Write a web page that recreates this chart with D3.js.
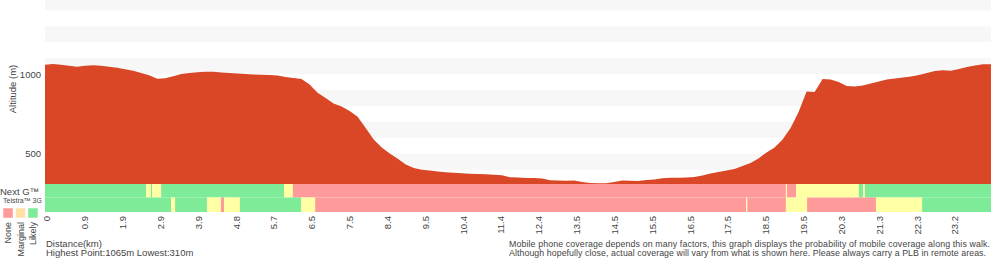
<!DOCTYPE html>
<html>
<head>
<meta charset="utf-8">
<script src="https://cdn.jsdelivr.net/npm/d3@7"></script>
<style>
    body { margin: 0; background: #fff; }
    text { font-family: "Liberation Sans", Arial, sans-serif; fill: #444; }
</style>
</head>
<body>
<div id="profile"></div>
<script>
// walk elevation profile with phone coverage strips underneath

// distance labels, one for every marker along the walk (km)
const tickLabels = ["0", "0.9", "1.9", "2.9", "3.9", "4.8", "5.7", "6.5", "7.5", "8.4",
    "9.5", "10.4", "11.4", "12.4", "13.5", "14.5", "15.5", "16.5", "17.5", "18.5",
    "19.5", "20.3", "21.3", "22.3", "23.2"];

// elevation samples (m), evenly spaced along the walk
const elevation = [1058, 1063, 1059, 1052, 1046, 1052, 1055, 1052, 1046, 1039,
    1031, 1021, 1007, 993, 970, 974, 987, 1000, 1007, 1011,
    1014, 1015, 1010, 1006, 1003, 1000, 998, 996, 994, 991,
    982, 975, 969, 935, 883, 850, 815, 796, 768, 732,
    661, 589, 539, 501, 468, 433, 410, 400, 395, 388,
    383, 380, 377, 375, 373, 371, 368, 365, 353, 351,
    348, 347, 345, 334, 332, 331, 332, 323, 316, 314,
    314, 323, 332, 330, 329, 335, 338, 346, 349, 350,
    351, 354, 363, 376, 385, 395, 404, 423, 442, 470,
    508, 539, 589, 661, 762, 891, 887, 969, 966, 950,
    925, 922, 928, 941, 953, 966, 972, 978, 985, 994,
    1007, 1019, 1024, 1021, 1032, 1044, 1054, 1062, 1062];

const lowest = 310;
const highest = 1065;

// coverage segments [from marker, to marker, level]
const nextG = [
    [0, 2.67, "likely"], [2.67, 2.80, "marginal"], [2.80, 2.83, "likely"],
    [2.83, 3.07, "marginal"], [3.07, 6.32, "likely"], [6.32, 6.55, "marginal"],
    [6.55, 19.58, "none"], [19.58, 19.61, "marginal"], [19.61, 19.85, "none"],
    [19.85, 21.51, "marginal"], [21.51, 21.62, "likely"], [21.62, 21.67, "marginal"],
    [21.67, 25, "likely"]
];

const telstra3G = [
    [0, 3.33, "likely"], [3.33, 3.44, "marginal"], [3.44, 4.28, "likely"],
    [4.28, 4.65, "marginal"], [4.65, 4.73, "none"], [4.73, 5.15, "marginal"],
    [5.15, 6.77, "likely"], [6.77, 7.14, "marginal"], [7.14, 18.53, "none"],
    [18.53, 18.56, "marginal"], [18.56, 19.58, "none"], [19.58, 20.14, "marginal"],
    [20.14, 21.96, "none"], [21.96, 23.18, "marginal"], [23.18, 25, "likely"]
];

const levels = ["none", "marginal", "likely"];
const levelNames = ["None", "Marginal", "Likely"];

// svg size
const svgWidth = 1000;
const svgHeight = 260;

const plot = { left: 45, right: 991, top: 0, bottom: 184 };

const svg = d3.select("#profile")
    .append("svg")
    .attr("width", svgWidth)
    .attr("height", svgHeight);

// x is in marker units, 25 markers across the plot
const xScale = d3.scaleLinear()
    .domain([0, tickLabels.length])
    .range([plot.left, plot.right]);

const yScale = d3.scaleLinear()
    .domain([lowest, 1465])
    .range([plot.bottom, plot.top]);

const barColour = d3.scaleOrdinal()
    .domain(levels)
    .range(["#ff9a9a", "#ffffa3", "#7deb98"]);

const keyColour = d3.scaleOrdinal()
    .domain(levels)
    .range(["#ff9a9a", "#ffe1a6", "#7deb98"]);

// alternating 100m bands
const bands = d3.range(400, 1500, 200);
svg.append("g")
    .selectAll("rect")
    .data(bands)
    .enter()
    .append("rect")
    .attr("x", plot.left)
    .attr("width", plot.right - plot.left)
    .attr("y", d => Math.max(plot.top, yScale(d + 100)))
    .attr("height", d => yScale(d) - Math.max(plot.top, yScale(d + 100)))
    .attr("fill", "#f7f7f7");

// elevation area
const step = tickLabels.length / (elevation.length - 1);
const area = d3.area()
    .x((d, i) => xScale(i * step))
    .y0(yScale(lowest))
    .y1(d => yScale(d));

svg.append("path")
    .datum(elevation)
    .attr("d", area)
    .attr("fill", "#d94727");

// coverage strips
function drawStrip(data, top, h) {
    svg.append("g")
        .selectAll("rect")
        .data(data)
        .enter()
        .append("rect")
        .attr("x", d => xScale(d[0]))
        .attr("width", d => xScale(d[1]) - xScale(d[0]))
        .attr("y", top)
        .attr("height", h)
        .attr("fill", d => barColour(d[2]));
}

drawStrip(nextG, 184, 13.5);
drawStrip(telstra3G, 197.5, 14.5);

// y axis
const leftAxis = d3.axisLeft(yScale)
    .tickValues([500, 1000])
    .tickFormat(d3.format("d"))
    .tickSize(0)
    .tickPadding(4);

const yAxis = svg.append("g")
    .attr("transform", `translate(${plot.left}, 0)`)
    .call(leftAxis);
yAxis.select(".domain").remove();
yAxis.selectAll("text")
    .style("font-size", "9.5px")
    .style("font-family", "\"Liberation Sans\", Arial, sans-serif")
    .attr("fill", "#444");

svg.append("text")
    .attr("transform", "translate(16, 89) rotate(-90)")
    .attr("text-anchor", "middle")
    .style("font-size", "9.5px")
    .text("Altitude (m)");

// distance labels, rotated
svg.append("g")
    .selectAll("text")
    .data(tickLabels)
    .enter()
    .append("text")
    .attr("transform", (d, i) => `translate(${xScale(i) + 2}, 216) rotate(-90)`)
    .attr("text-anchor", "end")
    .attr("dy", "0.35em")
    .style("font-size", "9.5px")
    .text(d => d);

// strip names and key
svg.append("text")
    .attr("x", 0)
    .attr("y", 195)
    .style("font-size", "9.5px")
    .text("Next G™");

svg.append("text")
    .attr("x", 3)
    .attr("y", 203)
    .style("font-size", "7px")
    .text("Telstra™ 3G");

const key = svg.append("g")
    .selectAll("g")
    .data(levels)
    .enter()
    .append("g")
    .attr("transform", (d, i) => `translate(${3 + i * 12.5}, 208)`);

key.append("rect")
    .attr("width", 10)
    .attr("height", 10)
    .attr("fill", d => keyColour(d))
    .attr("stroke", "#fff")
    .attr("stroke-opacity", 0.5);

key.append("text")
    .attr("transform", "translate(5, 14) rotate(-90)")
    .attr("text-anchor", "end")
    .attr("dy", "0.35em")
    .style("font-size", "9px")
    .text((d, i) => levelNames[i]);

// notes
svg.append("text")
    .attr("x", 46)
    .attr("y", 246.5)
    .style("font-size", "9.5px")
    .text("Distance(km)");

svg.append("text")
    .attr("x", 46)
    .attr("y", 255.5)
    .style("font-size", "9.5px")
    .text(`Highest Point:${highest}m Lowest:${lowest}m`);

svg.append("text")
    .attr("x", 509)
    .attr("y", 246.5)
    .attr("textLength", 481)
    .attr("lengthAdjust", "spacing")
    .style("font-size", "8.8px")
    .text("Mobile phone coverage depends on many factors, this graph displays the probability of mobile coverage along this walk.");

svg.append("text")
    .attr("x", 509)
    .attr("y", 255.5)
    .attr("textLength", 477)
    .attr("lengthAdjust", "spacing")
    .style("font-size", "8.8px")
    .text("Although hopefully close, actual coverage will vary from what is shown here. Please always carry a PLB in remote areas.");
</script>
</body>
</html>
